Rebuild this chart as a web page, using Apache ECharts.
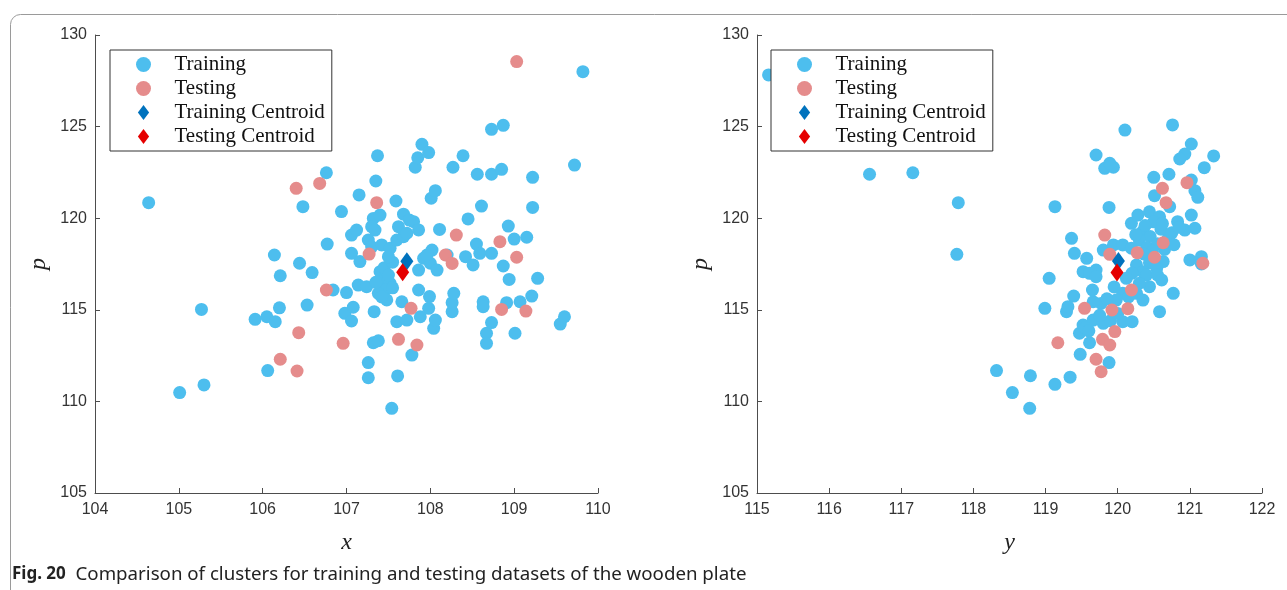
<!DOCTYPE html>
<html>
<head>
    <meta charset="utf-8">
    <title>Fig. 20</title>
    <script src="https://cdn.jsdelivr.net/npm/echarts@6/dist/echarts.min.js"></script>
    <style>
    body { margin: 0; background: #fff; }
    #main { width: 1287px; height: 590px; }
    </style>
</head>
<body>
    <div id="main"></div>
    <script>
    // legend names
    const names = ['Training', 'Testing', 'Training Centroid', 'Testing Centroid'];
    const xTicks = [104, 110];
    const yTicks = [115, 122];
    const pTicks = [105, 130];

    // left panel: [x, p]
    const xTrain = [
        [104.64, 120.85], [105.01, 110.48], [105.30, 110.90], [105.27, 115.02], [105.91, 114.48], [106.05, 114.62],
        [106.15, 114.35], [106.20, 115.11], [106.21, 116.86], [106.06, 111.68], [106.14, 117.99], [106.44, 117.54],
        [106.59, 117.03], [106.53, 115.26], [106.48, 120.63], [106.76, 122.48], [106.77, 118.59], [106.84, 116.08],
        [106.94, 120.36], [106.98, 114.81], [107.00, 115.94], [107.06, 119.08], [107.12, 119.35], [107.06, 118.08],
        [107.16, 117.63], [107.08, 115.14], [107.06, 114.39], [107.14, 116.35], [107.24, 116.26], [107.15, 121.27],
        [107.35, 122.03], [107.37, 123.41], [107.26, 118.81], [107.30, 118.44], [107.42, 118.54], [107.52, 118.36],
        [107.32, 119.99], [107.40, 120.17], [107.30, 119.54], [107.34, 119.35], [107.40, 117.08], [107.44, 116.63],
        [107.52, 116.45], [107.46, 116.08], [107.38, 115.90], [107.48, 115.54], [107.33, 114.90], [107.32, 113.20],
        [107.38, 113.31], [107.26, 112.12], [107.26, 111.29], [107.45, 117.30], [107.50, 116.90], [107.35, 116.50],
        [107.55, 116.20], [107.42, 115.70], [107.55, 117.60], [107.50, 117.90], [107.59, 120.94], [107.60, 118.81],
        [107.68, 118.99], [107.68, 120.22], [107.80, 119.81], [107.86, 119.36], [107.62, 119.54], [107.72, 119.18],
        [107.75, 119.90], [107.82, 122.78], [107.85, 123.30], [107.90, 124.03], [107.98, 123.58], [108.01, 121.09],
        [108.06, 121.50], [107.92, 117.81], [108.02, 118.26], [108.00, 117.54], [108.08, 117.17], [107.86, 117.17],
        [107.96, 117.99], [107.86, 116.08], [107.99, 115.72], [107.98, 115.08], [107.88, 114.62], [107.66, 115.44],
        [107.60, 114.35], [107.72, 114.44], [107.78, 112.53], [107.61, 111.39], [107.54, 109.62], [108.04, 113.99],
        [108.06, 114.44], [108.11, 119.39], [108.20, 117.99], [108.26, 114.90], [108.26, 115.39], [108.28, 115.90],
        [108.27, 122.78], [108.39, 123.41], [108.42, 117.90], [108.45, 119.96], [108.51, 117.45], [108.55, 118.59],
        [108.56, 122.40], [108.59, 118.08], [108.61, 120.66], [108.63, 115.44], [108.63, 115.17], [108.67, 113.72],
        [108.67, 113.17], [108.73, 114.30], [108.73, 118.08], [108.73, 122.40], [108.73, 124.85], [108.85, 122.67],
        [108.87, 125.07], [108.87, 117.39], [108.91, 115.39], [108.93, 119.57], [108.94, 116.66], [109.00, 118.86],
        [109.01, 113.72], [109.07, 115.44], [109.15, 118.96], [109.21, 115.75], [109.22, 120.59], [109.22, 122.23],
        [109.28, 116.72], [109.55, 114.22], [109.60, 114.62], [109.72, 122.90], [109.82, 128.00]
    ];
    const xTest = [
        [109.03, 128.55], [106.40, 121.63], [106.68, 121.90], [107.36, 120.85], [108.31, 119.08], [108.83, 118.72],
        [107.27, 118.04], [108.18, 117.99], [108.26, 117.53], [109.03, 117.87], [106.76, 116.08], [107.77, 115.08],
        [108.85, 115.02], [109.14, 114.93], [106.43, 113.75], [107.62, 113.39], [106.96, 113.17], [107.84, 113.08],
        [106.21, 112.30], [106.41, 111.66]
    ];
    const xTrainCentroid = [[107.72, 117.65]];
    const xTestCentroid = [[107.67, 117.05]];

    // right panel: [y, p]
    const yTrain = [
        [115.16, 127.82], [116.56, 122.40], [117.16, 122.48], [117.79, 120.85], [117.77, 118.03],
        [120.10, 124.81], [120.76, 125.09], [119.70, 123.45], [119.82, 122.72], [119.94, 122.78], [119.89, 123.00],
        [121.02, 124.05], [120.93, 123.50], [120.86, 123.23], [121.33, 123.40], [121.20, 122.76],
        [120.50, 122.23], [120.71, 122.40], [121.02, 122.08], [121.07, 121.50], [121.11, 121.14], [120.51, 121.23],
        [120.72, 120.63], [119.13, 120.63], [119.88, 120.59], [121.02, 120.17],
        [120.19, 119.72], [120.28, 120.17], [120.44, 120.35], [120.58, 120.08], [120.83, 119.81], [120.93, 119.35],
        [121.07, 119.45], [120.35, 119.30], [120.45, 119.00], [120.60, 119.40], [120.30, 118.80], [120.55, 118.60],
        [120.70, 118.90], [120.40, 118.40], [120.65, 118.30], [120.50, 119.80], [120.75, 119.20], [120.85, 119.50],
        [120.38, 119.60], [120.62, 119.70], [120.25, 119.10], [120.48, 118.20], [120.36, 118.05], [120.78, 118.55],
        [119.36, 118.90], [119.80, 118.26], [119.94, 118.54], [120.07, 118.54], [120.19, 118.36], [119.40, 118.08],
        [119.57, 117.81], [119.70, 117.17], [121.00, 117.72], [121.16, 117.90], [121.16, 117.50],
        [120.26, 117.45], [120.44, 117.57], [120.63, 117.63], [120.54, 117.27], [120.35, 117.08], [120.20, 117.00],
        [120.40, 116.90], [120.55, 116.90], [119.52, 117.08], [119.61, 116.99], [119.70, 116.81],
        [119.05, 116.72], [120.12, 116.72], [120.61, 116.63], [120.44, 116.26], [120.77, 115.90],
        [120.07, 115.90], [120.26, 115.90], [120.35, 115.53], [119.98, 115.53], [119.77, 115.35], [119.66, 115.44],
        [119.85, 115.60], [120.15, 115.70], [119.65, 116.08], [119.39, 115.75], [118.99, 115.08], [119.29, 114.90],
        [119.31, 115.17], [120.58, 114.90], [119.47, 113.72], [119.61, 113.20], [119.52, 114.17], [119.66, 114.44],
        [119.80, 114.26], [120.07, 114.35], [120.20, 114.35], [119.90, 114.40], [119.75, 114.70], [120.00, 114.80],
        [119.55, 114.00], [119.95, 116.25], [120.30, 116.45], [119.60, 113.85],
        [118.32, 111.68], [118.54, 110.48], [118.79, 111.40], [118.78, 109.62], [119.13, 110.93], [119.34, 111.32],
        [119.48, 112.57], [119.88, 112.12]
    ];
    const yTest = [
        [120.62, 121.63], [120.96, 121.94], [120.67, 120.85], [119.82, 119.08], [120.63, 118.66], [119.89, 118.03],
        [120.27, 118.12], [120.51, 117.87], [121.18, 117.54], [120.19, 116.08], [119.54, 115.08], [119.92, 114.99],
        [120.14, 115.06], [119.96, 113.81], [119.17, 113.20], [119.79, 113.39], [119.89, 113.08], [119.70, 112.30],
        [119.77, 111.62]
    ];
    const yTrainCentroid = [[120.01, 117.66]];
    const yTestCentroid = [[119.99, 117.03]];

    const colors = ['#4DBEEE', '#E58C8C', '#0072BD', '#E50000'];
    const diamond = 'path://M6,0L12,8L6,16L0,8Z';

    const axisColor = '#4d4d4d';
    const tickLabel = { color: '#333', fontFamily: 'Liberation Sans', fontSize: 16 };
    const mathName = { fontFamily: 'Liberation Serif', fontStyle: 'italic', fontSize: 24, color: '#222' };

    function xAxisOf(ticks, name, grid) {
        return {
            type: 'value', gridIndex: grid, min: ticks[0], max: ticks[1], interval: 1,
            name: name, nameLocation: 'middle', nameGap: 38, nameTextStyle: mathName,
            axisLine: { onZero: false, lineStyle: { color: axisColor } },
            axisTick: { inside: true, length: 5, lineStyle: { color: axisColor } },
            axisLabel: Object.assign({ margin: 9 }, tickLabel),
            splitLine: { show: false }
        };
    }

    function yAxisOf(grid) {
        return {
            type: 'value', gridIndex: grid, min: pTicks[0], max: pTicks[1], interval: 5,
            name: 'p', nameLocation: 'middle', nameGap: 44, nameRotate: 90, nameTextStyle: mathName,
            axisLine: { show: true, onZero: false, lineStyle: { color: axisColor } },
            axisTick: { show: true, inside: true, length: 5, lineStyle: { color: axisColor } },
            axisLabel: Object.assign({ margin: 8 }, tickLabel),
            splitLine: { show: false }
        };
    }

    function legendOf(left) {
        return {
            left: left, top: 50, orient: 'vertical',
            itemWidth: 52, itemHeight: 15, itemGap: 3,
            padding: [4, 7, 4, 26],
            borderColor: '#333', borderWidth: 1, backgroundColor: '#fff',
            selectedMode: false,
            textStyle: { fontFamily: 'Liberation Serif', fontSize: 21, lineHeight: 20, color: '#111' },
            data: [
                { name: names[0], icon: 'circle' },
                { name: names[1], icon: 'circle' },
                { name: names[2], icon: diamond },
                { name: names[3], icon: diamond }
            ]
        };
    }

    function panel(grid, train, test, trainC, testC) {
        return [
            { name: names[0], type: 'scatter', xAxisIndex: grid, yAxisIndex: grid, data: train, symbolSize: 13, itemStyle: { color: colors[0], opacity: 1 } },
            { name: names[1], type: 'scatter', xAxisIndex: grid, yAxisIndex: grid, data: test, symbolSize: 13, itemStyle: { color: colors[1], opacity: 1 } },
            { name: names[2], type: 'scatter', xAxisIndex: grid, yAxisIndex: grid, data: trainC, symbol: 'diamond', symbolSize: [13, 18], itemStyle: { color: colors[2], opacity: 1 }, z: 3 },
            { name: names[3], type: 'scatter', xAxisIndex: grid, yAxisIndex: grid, data: testC, symbol: 'diamond', symbolSize: [13, 18], itemStyle: { color: colors[3], opacity: 1 }, z: 3 }
        ];
    }

    const myChart = echarts.init(document.getElementById('main'));
    const option = {
        animation: false,
        grid: [
            { left: 95, right: 689, top: 35, bottom: 97 },
            { left: 757, right: 25, top: 35, bottom: 97 }
        ],
        xAxis: [xAxisOf(xTicks, 'x', 0), xAxisOf(yTicks, 'y', 1)],
        yAxis: [yAxisOf(0), yAxisOf(1)],
        legend: [legendOf(110), legendOf(771)],
        series: panel(0, xTrain, xTest, xTrainCentroid, xTestCentroid)
            .concat(panel(1, yTrain, yTest, yTrainCentroid, yTestCentroid)),
        graphic: [
            // frame round the figure
            {
                type: 'rect', left: 8, top: 12, silent: true, z: -1,
                shape: { width: 1300, height: 600, r: 10 },
                style: { fill: 'none', stroke: '#9a9a9a', lineWidth: 1 }
            },
            {
                type: 'text', left: 12, top: 565,
                style: {
                    rich: {
                        b: { fontFamily: 'Noto Sans', fontWeight: 'bold', fontSize: 17, fill: '#222' },
                        n: { fontFamily: 'Noto Sans', fontSize: 18.7, fill: '#222' }
                    },
                    text: '{b|Fig. 20}{n|  Comparison of clusters for training and testing datasets of the wooden plate}'
                }
            }
        ]
    };
    myChart.setOption(option);
    </script>
</body>
</html>
